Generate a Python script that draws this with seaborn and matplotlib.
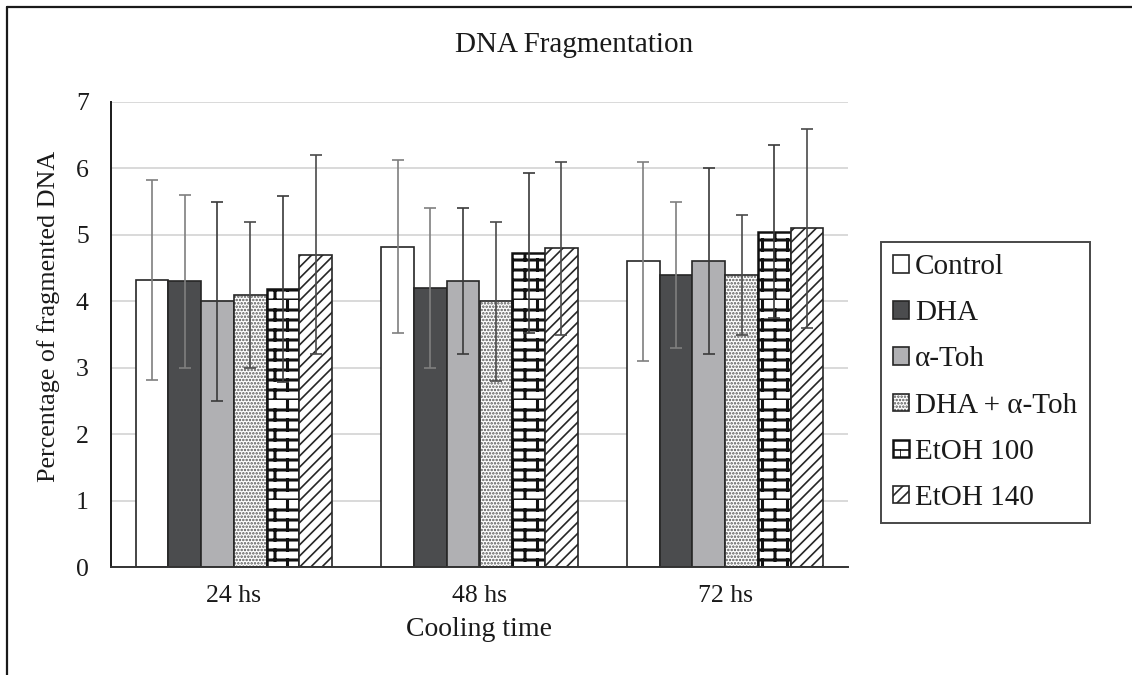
import warnings
import numpy as np
import pandas as pd
import matplotlib
matplotlib.use("Agg")
import matplotlib.pyplot as plt
import matplotlib.hatch as mhatch
import matplotlib.colors as mcolors
from matplotlib.path import Path
from matplotlib.lines import Line2D
import seaborn as sns

warnings.filterwarnings("ignore")

# --- data ---
times = ["24 hs", "48 hs", "72 hs"]
groups = ["Control", "DHA", "α-Toh", "DHA + α-Toh", "EtOH 100", "EtOH 140"]

control = [4.32, 4.82, 4.60]
dha = [4.30, 4.20, 4.40]
atoh = [4.00, 4.30, 4.60]
dha_atoh = [4.10, 4.00, 4.40]
etoh100 = [4.19, 4.73, 5.05]
etoh140 = [4.70, 4.80, 5.10]

control_sd = [1.50, 1.30, 1.50]
dha_sd = [1.30, 1.20, 1.10]
atoh_sd = [1.50, 1.10, 1.40]
dha_atoh_sd = [1.10, 1.20, 0.90]
etoh100_sd = [1.40, 1.20, 1.30]
etoh140_sd = [1.50, 1.30, 1.50]

means = [control, dha, atoh, dha_atoh, etoh100, etoh140]
sds = [control_sd, dha_sd, atoh_sd, dha_atoh_sd, etoh100_sd, etoh140_sd]

# --- styling ---
fills = ["#ffffff", "#4b4c4e", "#afb0b3", "#ffffff", "#ffffff", "#ffffff"]
hatches = [None, None, None, ".....", "b", "///"]
err_colors = ["#7f7f7f", "#7f7f7f", "#3a3a3a", "#4a4a4a", "#3a3a3a", "#4a4a4a"]
EDGE = "#262626"


class BrickHatch(mhatch.HatchPatternBase):
    """Brick wall pattern, selected with the letter 'b'."""
    def __init__(self, hatch, density):
        n = hatch.count("b")
        self.rows = 10 * n
        self.cols = 4 * n
        self.num_vertices = self.rows * (2 + 2 * self.cols)

    def set_vertices_and_codes(self, vertices, codes):
        k = 0
        h = 1.0 / self.rows
        w = 1.0 / self.cols
        for r in range(self.rows):
            y0 = r * h
            vertices[k] = (0.0, y0)
            vertices[k + 1] = (1.0, y0)
            codes[k] = Path.MOVETO
            codes[k + 1] = Path.LINETO
            k += 2
            off = 0.0 if r % 2 == 0 else w / 2
            for c in range(self.cols):
                x = c * w + off
                vertices[k] = (x, y0)
                vertices[k + 1] = (x, y0 + h)
                codes[k] = Path.MOVETO
                codes[k + 1] = Path.LINETO
                k += 2


mhatch._hatch_types.append(BrickHatch)

sns.set_style("white")
plt.rcParams["font.family"] = ["Liberation Serif", "DejaVu Serif"]
plt.rcParams["hatch.linewidth"] = 1.2

df = pd.DataFrame({
    "time": np.tile(times, len(groups)),
    "group": np.repeat(groups, len(times)),
    "value": np.concatenate(means),
})

fig = plt.figure(figsize=(11.32, 6.75), dpi=100)
ax = fig.add_axes([111 / 1132, 108 / 675, 737 / 1132, 465 / 675])

sns.barplot(data=df, x="time", y="value", hue="group", order=times, hue_order=groups,
            palette=dict(zip(groups, fills)), edgecolor=EDGE, linewidth=1.2,
            errorbar=None, width=0.8, gap=0, legend=False, ax=ax)

handles = []
bar_containers = list(ax.containers)
for i, cont in enumerate(bar_containers):
    xs, ys = [], []
    for p in cont.patches:
        if hatches[i]:
            p.set_hatch(hatches[i])
            if hatches[i] == "b":
                if hasattr(p, "set_hatch_linewidth"):
                    p.set_hatch_linewidth(2.2)
                p.set_edgecolor("#111111")
                p.set_linewidth(1.8)
            if hatches[i].startswith("."):
                # lighter grey dots
                if hasattr(p, "set_hatchcolor"):
                    p.set_hatchcolor("#555555")
                else:
                    p._hatch_color = mcolors.to_rgba("#555555")
        xs.append(p.get_x() + p.get_width() / 2)
        ys.append(p.get_height())
    ax.errorbar(xs, ys, yerr=sds[i], fmt="none", ecolor=err_colors[i],
                elinewidth=1.2, capsize=4, capthick=1.2, zorder=4)
    handles.append(cont.patches[0])

ax.set_ylim(0, 7)
ax.set_xlim(-0.5, 2.5)
ax.set_yticks(range(0, 8))
ax.yaxis.grid(True, color="#d9d9d9", linewidth=1.4)
ax.set_axisbelow(True)
for s in ["top", "right"]:
    ax.spines[s].set_visible(False)
ax.spines["left"].set_color("#1a1a1a")
ax.spines["left"].set_linewidth(1.4)
ax.spines["bottom"].set_color("#333333")
ax.spines["bottom"].set_linewidth(1.4)
ax.tick_params(axis="both", length=0, labelsize=18.5, colors="#1a1a1a")
ax.tick_params(axis="y", pad=16)
ax.tick_params(axis="x", pad=13)

ax.set_xlabel("Cooling time", fontsize=20, color="#1a1a1a")
ax.set_ylabel("Percentage of fragmented DNA", fontsize=18.8, color="#1a1a1a")
ax.xaxis.set_label_coords(0.5, -0.108)
ax.yaxis.set_label_coords(-0.0696, 0.538)

fig.text(574 / 1132, 1 - 45 / 675, "DNA Fragmentation", ha="center", va="center",
         fontsize=21, color="#1a1a1a")

leg = fig.legend(handles, groups, loc="upper left",
                 bbox_to_anchor=(881 / 1132, 1 - 242 / 675), borderaxespad=0,
                 fontsize=21, frameon=True, fancybox=False, handlelength=0.55,
                 handleheight=0.55, handletextpad=0.2, labelspacing=0.69,
                 borderpad=0.42)
leg.get_frame().set_edgecolor("#1a1a1a")
leg.get_frame().set_linewidth(1.4)
for t in leg.get_texts():
    t.set_color("#1a1a1a")

# outer frame (left and top edges visible in the reference)
fig.add_artist(Line2D([7 / 1132, 7 / 1132], [0, 1 - 7 / 675], transform=fig.transFigure,
                      color="#1a1a1a", linewidth=1.6))
fig.add_artist(Line2D([7 / 1132, 1], [1 - 7 / 675, 1 - 7 / 675], transform=fig.transFigure,
                      color="#1a1a1a", linewidth=1.6))

fig.savefig("out.png", dpi=100, facecolor="white")
